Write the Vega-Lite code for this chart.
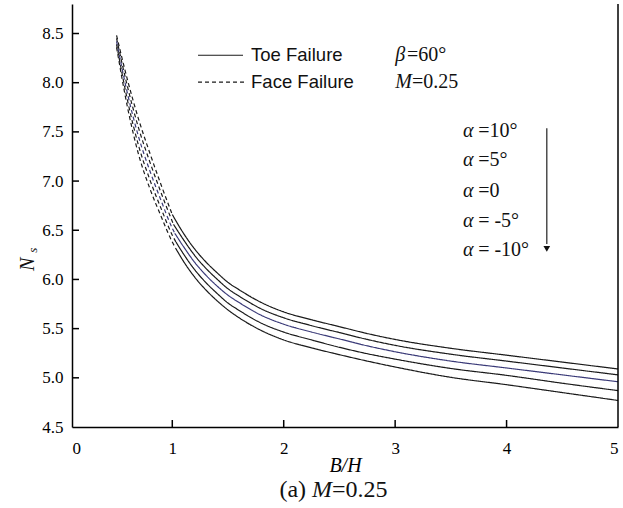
{
  "$schema": "https://vega.github.io/schema/vega-lite/v6.json",
  "width": 546,
  "height": 423,
  "autosize": {"type": "none"},
  "padding": {"left": 72, "top": 4, "right": 5, "bottom": 81},
  "background": "white",
  "config": {
    "view": {"stroke": null},
    "axis": {"grid": false, "domainColor": "#000", "domainWidth": 1.5, "labelColor": "#000", "titleColor": "#000", "labelFont": "Liberation Serif", "titleFont": "Liberation Serif"}
  },
  "datasets": {
    "curves": [
      {"a": "10", "m": "Face", "x": 0.5, "y": 8.48}, {"a": "10", "m": "Face", "x": 0.6, "y": 8.02}, {"a": "10", "m": "Face", "x": 0.7, "y": 7.62}, {"a": "10", "m": "Face", "x": 0.8, "y": 7.28}, {"a": "10", "m": "Face", "x": 0.9, "y": 6.96}, {"a": "10", "m": "Face", "x": 1.0, "y": 6.66},
      {"a": "10", "m": "Toe", "x": 1.0, "y": 6.66}, {"a": "10", "m": "Toe", "x": 1.1, "y": 6.47}, {"a": "10", "m": "Toe", "x": 1.2, "y": 6.31}, {"a": "10", "m": "Toe", "x": 1.3, "y": 6.18}, {"a": "10", "m": "Toe", "x": 1.4, "y": 6.07}, {"a": "10", "m": "Toe", "x": 1.5, "y": 5.97}, {"a": "10", "m": "Toe", "x": 1.6, "y": 5.895}, {"a": "10", "m": "Toe", "x": 1.8, "y": 5.765}, {"a": "10", "m": "Toe", "x": 2.0, "y": 5.67}, {"a": "10", "m": "Toe", "x": 2.25, "y": 5.59}, {"a": "10", "m": "Toe", "x": 2.5, "y": 5.52}, {"a": "10", "m": "Toe", "x": 2.75, "y": 5.45}, {"a": "10", "m": "Toe", "x": 3.0, "y": 5.39}, {"a": "10", "m": "Toe", "x": 3.5, "y": 5.30}, {"a": "10", "m": "Toe", "x": 4.0, "y": 5.23}, {"a": "10", "m": "Toe", "x": 4.5, "y": 5.16}, {"a": "10", "m": "Toe", "x": 5.0, "y": 5.09},
      {"a": "5", "m": "Face", "x": 0.5, "y": 8.45}, {"a": "5", "m": "Face", "x": 0.6, "y": 7.95}, {"a": "5", "m": "Face", "x": 0.7, "y": 7.53}, {"a": "5", "m": "Face", "x": 0.8, "y": 7.19}, {"a": "5", "m": "Face", "x": 0.9, "y": 6.88}, {"a": "5", "m": "Face", "x": 1.0, "y": 6.59}, {"a": "5", "m": "Face", "x": 1.011, "y": 6.56},
      {"a": "5", "m": "Toe", "x": 1.011, "y": 6.56}, {"a": "5", "m": "Toe", "x": 1.1, "y": 6.405}, {"a": "5", "m": "Toe", "x": 1.2, "y": 6.245}, {"a": "5", "m": "Toe", "x": 1.3, "y": 6.115}, {"a": "5", "m": "Toe", "x": 1.4, "y": 6.005}, {"a": "5", "m": "Toe", "x": 1.5, "y": 5.905}, {"a": "5", "m": "Toe", "x": 1.6, "y": 5.83}, {"a": "5", "m": "Toe", "x": 1.8, "y": 5.70}, {"a": "5", "m": "Toe", "x": 2.0, "y": 5.61}, {"a": "5", "m": "Toe", "x": 2.25, "y": 5.53}, {"a": "5", "m": "Toe", "x": 2.5, "y": 5.46}, {"a": "5", "m": "Toe", "x": 2.75, "y": 5.39}, {"a": "5", "m": "Toe", "x": 3.0, "y": 5.33}, {"a": "5", "m": "Toe", "x": 3.5, "y": 5.24}, {"a": "5", "m": "Toe", "x": 4.0, "y": 5.17}, {"a": "5", "m": "Toe", "x": 4.5, "y": 5.10}, {"a": "5", "m": "Toe", "x": 5.0, "y": 5.03},
      {"a": "0", "m": "Face", "x": 0.5, "y": 8.42}, {"a": "0", "m": "Face", "x": 0.6, "y": 7.88}, {"a": "0", "m": "Face", "x": 0.7, "y": 7.44}, {"a": "0", "m": "Face", "x": 0.8, "y": 7.10}, {"a": "0", "m": "Face", "x": 0.9, "y": 6.80}, {"a": "0", "m": "Face", "x": 1.0, "y": 6.52}, {"a": "0", "m": "Face", "x": 1.022, "y": 6.47},
      {"a": "0", "m": "Toe", "x": 1.022, "y": 6.47}, {"a": "0", "m": "Toe", "x": 1.1, "y": 6.335}, {"a": "0", "m": "Toe", "x": 1.2, "y": 6.175}, {"a": "0", "m": "Toe", "x": 1.3, "y": 6.045}, {"a": "0", "m": "Toe", "x": 1.4, "y": 5.935}, {"a": "0", "m": "Toe", "x": 1.5, "y": 5.84}, {"a": "0", "m": "Toe", "x": 1.6, "y": 5.765}, {"a": "0", "m": "Toe", "x": 1.8, "y": 5.635}, {"a": "0", "m": "Toe", "x": 2.0, "y": 5.545}, {"a": "0", "m": "Toe", "x": 2.25, "y": 5.465}, {"a": "0", "m": "Toe", "x": 2.5, "y": 5.395}, {"a": "0", "m": "Toe", "x": 2.75, "y": 5.325}, {"a": "0", "m": "Toe", "x": 3.0, "y": 5.265}, {"a": "0", "m": "Toe", "x": 3.5, "y": 5.17}, {"a": "0", "m": "Toe", "x": 4.0, "y": 5.10}, {"a": "0", "m": "Toe", "x": 4.5, "y": 5.03}, {"a": "0", "m": "Toe", "x": 5.0, "y": 4.96},
      {"a": "-5", "m": "Face", "x": 0.5, "y": 8.39}, {"a": "-5", "m": "Face", "x": 0.6, "y": 7.81}, {"a": "-5", "m": "Face", "x": 0.7, "y": 7.35}, {"a": "-5", "m": "Face", "x": 0.8, "y": 7.01}, {"a": "-5", "m": "Face", "x": 0.9, "y": 6.72}, {"a": "-5", "m": "Face", "x": 1.0, "y": 6.45}, {"a": "-5", "m": "Face", "x": 1.033, "y": 6.38},
      {"a": "-5", "m": "Toe", "x": 1.033, "y": 6.38}, {"a": "-5", "m": "Toe", "x": 1.1, "y": 6.26}, {"a": "-5", "m": "Toe", "x": 1.2, "y": 6.10}, {"a": "-5", "m": "Toe", "x": 1.3, "y": 5.97}, {"a": "-5", "m": "Toe", "x": 1.4, "y": 5.86}, {"a": "-5", "m": "Toe", "x": 1.5, "y": 5.76}, {"a": "-5", "m": "Toe", "x": 1.6, "y": 5.685}, {"a": "-5", "m": "Toe", "x": 1.8, "y": 5.555}, {"a": "-5", "m": "Toe", "x": 2.0, "y": 5.465}, {"a": "-5", "m": "Toe", "x": 2.25, "y": 5.385}, {"a": "-5", "m": "Toe", "x": 2.5, "y": 5.31}, {"a": "-5", "m": "Toe", "x": 2.75, "y": 5.245}, {"a": "-5", "m": "Toe", "x": 3.0, "y": 5.19}, {"a": "-5", "m": "Toe", "x": 3.5, "y": 5.095}, {"a": "-5", "m": "Toe", "x": 4.0, "y": 5.025}, {"a": "-5", "m": "Toe", "x": 4.5, "y": 4.945}, {"a": "-5", "m": "Toe", "x": 5.0, "y": 4.87},
      {"a": "-10", "m": "Face", "x": 0.5, "y": 8.36}, {"a": "-10", "m": "Face", "x": 0.6, "y": 7.74}, {"a": "-10", "m": "Face", "x": 0.7, "y": 7.26}, {"a": "-10", "m": "Face", "x": 0.8, "y": 6.92}, {"a": "-10", "m": "Face", "x": 0.9, "y": 6.64}, {"a": "-10", "m": "Face", "x": 1.0, "y": 6.38}, {"a": "-10", "m": "Face", "x": 1.044, "y": 6.29},
      {"a": "-10", "m": "Toe", "x": 1.044, "y": 6.29}, {"a": "-10", "m": "Toe", "x": 1.1, "y": 6.185}, {"a": "-10", "m": "Toe", "x": 1.2, "y": 6.025}, {"a": "-10", "m": "Toe", "x": 1.3, "y": 5.895}, {"a": "-10", "m": "Toe", "x": 1.4, "y": 5.785}, {"a": "-10", "m": "Toe", "x": 1.5, "y": 5.69}, {"a": "-10", "m": "Toe", "x": 1.6, "y": 5.61}, {"a": "-10", "m": "Toe", "x": 1.8, "y": 5.48}, {"a": "-10", "m": "Toe", "x": 2.0, "y": 5.385}, {"a": "-10", "m": "Toe", "x": 2.25, "y": 5.305}, {"a": "-10", "m": "Toe", "x": 2.5, "y": 5.235}, {"a": "-10", "m": "Toe", "x": 2.75, "y": 5.17}, {"a": "-10", "m": "Toe", "x": 3.0, "y": 5.11}, {"a": "-10", "m": "Toe", "x": 3.5, "y": 5.005}, {"a": "-10", "m": "Toe", "x": 4.0, "y": 4.93}, {"a": "-10", "m": "Toe", "x": 4.5, "y": 4.85}, {"a": "-10", "m": "Toe", "x": 5.0, "y": 4.77}
    ],
    "legendLines": [
      {"m": "Toe", "x": 1.231, "x2": 1.635, "y": 8.279},
      {"m": "Face", "x": 1.231, "x2": 1.662, "y": 8.005}
    ],
    "legendText": [
      {"t": "Toe Failure", "x": 1.707, "y": 8.279},
      {"t": "Face Failure", "x": 1.707, "y": 8.005}
    ],
    "symbols": [
      {"t": "β", "x": 3.0, "y": 8.279},
      {"t": "M", "x": 3.0, "y": 8.005},
      {"t": "α", "x": 3.61, "y": 7.506},
      {"t": "α", "x": 3.61, "y": 7.211},
      {"t": "α", "x": 3.61, "y": 6.896},
      {"t": "α", "x": 3.61, "y": 6.591},
      {"t": "α", "x": 3.61, "y": 6.296}
    ],
    "values": [
      {"t": "=60°", "x": 3.107, "y": 8.279},
      {"t": "=0.25", "x": 3.152, "y": 8.005},
      {"t": "=10°", "x": 3.745, "y": 7.506},
      {"t": "=5°", "x": 3.745, "y": 7.211},
      {"t": "=0", "x": 3.745, "y": 6.896},
      {"t": "= -5°", "x": 3.745, "y": 6.591},
      {"t": "= -10°", "x": 3.745, "y": 6.296}
    ]
  },
  "layer": [
    {
      "data": {"name": "curves"},
      "mark": {"type": "line", "interpolate": "monotone", "strokeWidth": 1.2},
      "encoding": {
        "x": {"field": "x", "type": "quantitative", "scale": {"domain": [0.1, 5], "nice": false, "zero": false},
          "axis": {"values": [0.1, 1, 2, 3, 4, 5], "labelExpr": "datum.value < 0.5 ? '0' : format(datum.value, 'd')", "ticks": false, "labelFontSize": 17, "labelPadding": 13, "title": "B/H", "titleFontStyle": "italic", "titleFontSize": 20, "titleFontWeight": "normal", "titlePadding": -1}},
        "y": {"field": "y", "type": "quantitative", "scale": {"domain": [4.5, 8.8], "nice": false, "zero": false},
          "axis": {"values": [4.5, 5, 5.5, 6, 6.5, 7, 7.5, 8, 8.5], "format": ".1f", "ticks": false, "labelFontSize": 17, "labelPadding": 9, "title": null}},
        "color": {"field": "a", "type": "nominal", "scale": {"domain": ["10", "5", "0", "-5", "-10"], "range": ["#1a1a1a", "#1a1a1a", "#3a3a78", "#1a1a1a", "#1a1a1a"]}, "legend": null},
        "strokeDash": {"field": "m", "type": "nominal", "scale": {"domain": ["Toe", "Face"], "range": [[1, 0], [4, 3]]}, "legend": null}
      }
    },
    {
      "data": {"values": [{"x": 1}, {"x": 2}, {"x": 3}, {"x": 4}]},
      "mark": {"type": "rule", "color": "#000", "strokeWidth": 1.5},
      "encoding": {"x": {"field": "x", "type": "quantitative"}, "y": {"datum": 4.5}, "y2": {"datum": 4.571}}
    },
    {
      "data": {"values": [{"y": 5}, {"y": 5.5}, {"y": 6}, {"y": 6.5}, {"y": 7}, {"y": 7.5}, {"y": 8}, {"y": 8.5}]},
      "mark": {"type": "rule", "color": "#000", "strokeWidth": 1.5},
      "encoding": {"y": {"field": "y", "type": "quantitative"}, "x": {"datum": 0.1}, "x2": {"datum": 0.163}}
    },
    {
      "data": {"values": [{"x": 5}]},
      "mark": {"type": "rule", "color": "#000", "strokeWidth": 1.5},
      "encoding": {"x": {"field": "x", "type": "quantitative"}}
    },
    {
      "data": {"name": "legendLines"},
      "mark": {"type": "rule", "color": "#1a1a1a", "strokeWidth": 1.2},
      "encoding": {
        "x": {"field": "x", "type": "quantitative"},
        "x2": {"field": "x2"},
        "y": {"field": "y", "type": "quantitative"},
        "strokeDash": {"field": "m", "type": "nominal", "legend": null}
      }
    },
    {
      "data": {"name": "legendText"},
      "mark": {"type": "text", "align": "left", "baseline": "middle", "font": "Liberation Sans", "fontSize": 18.5, "color": "#111"},
      "encoding": {"x": {"field": "x", "type": "quantitative"}, "y": {"field": "y", "type": "quantitative"}, "text": {"field": "t"}}
    },
    {
      "data": {"name": "symbols"},
      "mark": {"type": "text", "align": "left", "baseline": "middle", "font": "Liberation Serif", "fontStyle": "italic", "fontSize": 20, "color": "#111"},
      "encoding": {"x": {"field": "x", "type": "quantitative"}, "y": {"field": "y", "type": "quantitative"}, "text": {"field": "t"}}
    },
    {
      "data": {"name": "values"},
      "mark": {"type": "text", "align": "left", "baseline": "middle", "font": "Liberation Serif", "fontSize": 20, "color": "#111"},
      "encoding": {"x": {"field": "x", "type": "quantitative"}, "y": {"field": "y", "type": "quantitative"}, "text": {"field": "t"}}
    },
    {
      "data": {"values": [{"x": 4.361, "y": 7.537, "y2": 6.36}]},
      "mark": {"type": "rule", "color": "#333", "strokeWidth": 1.3},
      "encoding": {"x": {"field": "x", "type": "quantitative"}, "y": {"field": "y", "type": "quantitative"}, "y2": {"field": "y2"}}
    },
    {
      "data": {"values": [{"x": 4.361, "y": 6.31}]},
      "mark": {"type": "point", "shape": "triangle-down", "filled": true, "size": 45, "color": "#111", "opacity": 1},
      "encoding": {"x": {"field": "x", "type": "quantitative"}, "y": {"field": "y", "type": "quantitative"}}
    },
    {
      "data": {"values": [{"t": "N", "x": -0.295, "y": 6.153}]},
      "mark": {"type": "text", "align": "center", "baseline": "middle", "angle": 270, "font": "Liberation Serif", "fontStyle": "italic", "fontSize": 20, "color": "#111"},
      "encoding": {"x": {"field": "x", "type": "quantitative"}, "y": {"field": "y", "type": "quantitative"}, "text": {"field": "t"}}
    },
    {
      "data": {"values": [{"t": "s", "x": -0.25, "y": 6.296}]},
      "mark": {"type": "text", "align": "center", "baseline": "middle", "angle": 270, "font": "Liberation Serif", "fontStyle": "italic", "fontSize": 13, "color": "#111"},
      "encoding": {"x": {"field": "x", "type": "quantitative"}, "y": {"field": "y", "type": "quantitative"}, "text": {"field": "t"}}
    },
    {
      "data": {"values": [{"t": "(a)", "x": 1.962, "y": 3.864}, {"t": "=0.25", "x": 2.434, "y": 3.864}]},
      "mark": {"type": "text", "align": "left", "baseline": "middle", "font": "Liberation Serif", "fontSize": 24, "color": "#111"},
      "encoding": {"x": {"field": "x", "type": "quantitative"}, "y": {"field": "y", "type": "quantitative"}, "text": {"field": "t"}}
    },
    {
      "data": {"values": [{"t": "M", "x": 2.254, "y": 3.864}]},
      "mark": {"type": "text", "align": "left", "baseline": "middle", "font": "Liberation Serif", "fontStyle": "italic", "fontSize": 24, "color": "#111"},
      "encoding": {"x": {"field": "x", "type": "quantitative"}, "y": {"field": "y", "type": "quantitative"}, "text": {"field": "t"}}
    }
  ]
}
